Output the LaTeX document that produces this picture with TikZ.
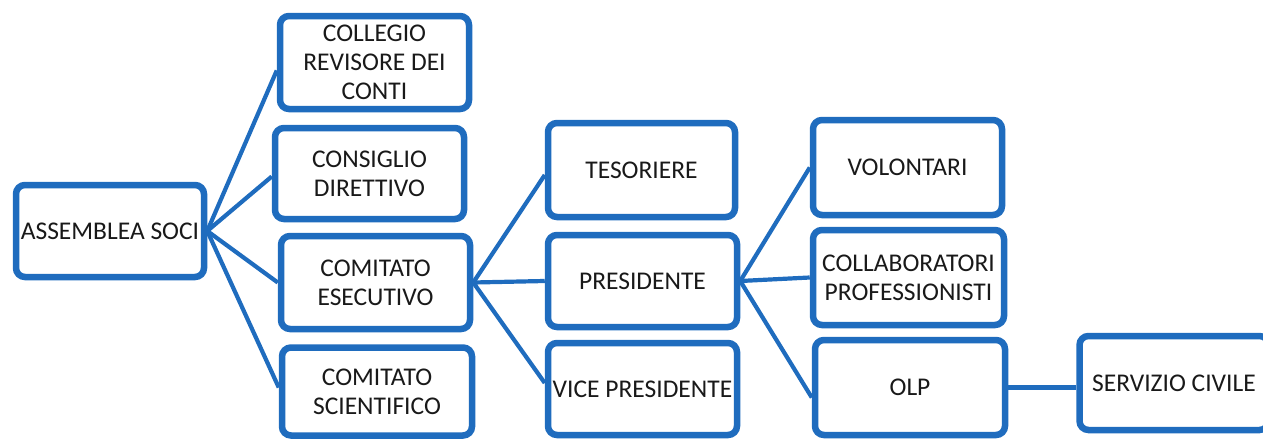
\documentclass[tikz,border=0pt]{standalone}
\usepackage{fontspec}
\setmainfont{Carlito}
\usetikzlibrary{shadows,backgrounds}
\definecolor{boxblue}{RGB}{31,108,190}
\tikzset{
  orgbox/.style={draw=boxblue, line width=6.5pt, rounded corners=9pt, fill=white,
    inner sep=0pt, align=center, font=\fontsize{25.5}{29}\selectfont,
    text=black!90,
    drop shadow={shadow xshift=1.5pt, shadow yshift=-2pt, opacity=0.25, fill=black}},
  link/.style={draw=boxblue, line width=4.2pt}
}
\begin{document}
\begin{tikzpicture}[x=1pt,y=-1pt]
\useasboundingbox (0,0) rectangle (1263,439);
\clip (0,0) rectangle (1263,439);
\node[orgbox, minimum width=188pt, minimum height=92pt] (as) at (110,231) {ASSEMBLEA SOCI};
\node[orgbox, minimum width=189pt, minimum height=93pt] (cr) at (374.5,62.5) {COLLEGIO\\REVISORE DEI\\CONTI};
\node[orgbox, minimum width=189pt, minimum height=91pt] (cd) at (369.5,173.5) {CONSIGLIO\\DIRETTIVO};
\node[orgbox, minimum width=189pt, minimum height=93pt] (ce) at (375.5,282.5) {COMITATO\\ESECUTIVO};
\node[orgbox, minimum width=190pt, minimum height=88pt] (cs) at (377,391.5) {COMITATO\\SCIENTIFICO};
\node[orgbox, minimum width=187pt, minimum height=94pt] (te) at (641.5,170) {TESORIERE};
\node[orgbox, minimum width=189pt, minimum height=92pt] (pr) at (642.5,281) {PRESIDENTE};
\node[orgbox, minimum width=189pt, minimum height=92pt] (vp) at (642.5,389) {VICE PRESIDENTE};
\node[orgbox, minimum width=189pt, minimum height=95pt] (vo) at (907.5,167.5) {VOLONTARI};
\node[orgbox, minimum width=191pt, minimum height=95pt] (co) at (908.5,277.5) {COLLABORATORI\\PROFESSIONISTI};
\node[orgbox, minimum width=190pt, minimum height=95pt] (ol) at (910,387.5) {OLP};
\node[orgbox, minimum width=189pt, minimum height=94pt] (sc) at (1174,383) {SERVIZIO CIVILE};
\begin{scope}[on background layer]
\draw[link] (as.east) -- ([yshift=-8pt]cr.west);
\draw[link] (as.east) -- ([yshift=-3pt]cd.west);
\draw[link] (as.east) -- (ce.west);
\draw[link] (as.east) -- ([yshift=4pt]cs.west);
\draw[link] (ce.east) -- ([yshift=-5pt]te.west);
\draw[link] (ce.east) -- (pr.west);
\draw[link] (ce.east) -- ([yshift=6pt]vp.west);
\draw[link] (pr.east) -- (vo.west);
\draw[link] (pr.east) -- (co.west);
\draw[link] (pr.east) -- ([yshift=-10pt]ol.west);
\draw[link] (ol.east) -- (ol.east -| sc.west);
\end{scope}
\end{tikzpicture}
\end{document}
